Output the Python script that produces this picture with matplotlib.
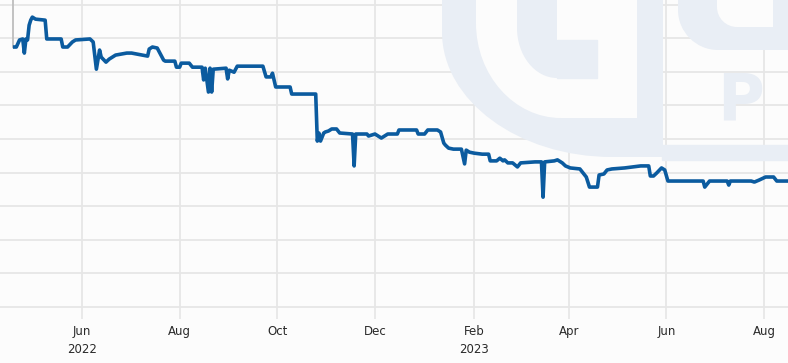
import numpy as np
import pandas as pd
import matplotlib
matplotlib.use("Agg")
import matplotlib.pyplot as plt
from matplotlib.path import Path
from matplotlib.patches import PathPatch, Rectangle

# price series (arbitrary units, gridlines every 10)
dates = [
    "2022-04-20", "2022-04-21", "2022-04-23", "2022-04-25", "2022-04-26", "2022-04-27",
    "2022-04-28", "2022-04-29", "2022-04-30", "2022-05-01", "2022-05-03", "2022-05-09",
    "2022-05-10", "2022-05-19", "2022-05-20", "2022-05-23", "2022-05-26", "2022-05-28",
    "2022-06-06", "2022-06-08", "2022-06-10", "2022-06-12", "2022-06-13", "2022-06-16",
    "2022-06-18", "2022-06-22", "2022-06-29", "2022-07-02", "2022-07-12", "2022-07-13",
    "2022-07-15", "2022-07-18", "2022-07-22", "2022-07-23", "2022-07-29", "2022-07-30",
    "2022-08-01", "2022-08-02", "2022-08-07", "2022-08-09", "2022-08-15", "2022-08-16",
    "2022-08-17", "2022-08-19", "2022-08-20", "2022-08-21", "2022-08-22", "2022-08-30",
    "2022-08-31", "2022-09-01", "2022-09-04", "2022-09-06", "2022-09-22", "2022-09-24",
    "2022-09-27", "2022-09-28", "2022-09-30", "2022-10-09", "2022-10-10", "2022-10-25",
    "2022-10-26", "2022-10-27", "2022-10-28", "2022-10-30", "2022-10-31", "2022-11-02",
    "2022-11-04", "2022-11-07", "2022-11-09", "2022-11-17", "2022-11-18", "2022-11-19",
    "2022-11-26", "2022-11-27", "2022-12-01", "2022-12-03", "2022-12-05", "2022-12-07",
    "2022-12-09", "2022-12-15", "2022-12-16", "2022-12-27", "2022-12-28", "2023-01-01",
    "2023-01-03", "2023-01-09", "2023-01-11", "2023-01-13", "2023-01-14", "2023-01-16",
    "2023-01-19", "2023-01-24", "2023-01-26", "2023-01-27", "2023-01-29", "2023-02-01",
    "2023-02-06", "2023-02-10", "2023-02-11", "2023-02-15", "2023-02-17", "2023-02-19",
    "2023-02-20", "2023-02-22", "2023-02-25", "2023-02-28", "2023-03-02", "2023-03-11",
    "2023-03-15", "2023-03-16", "2023-03-17", "2023-03-23", "2023-03-25", "2023-03-28",
    "2023-03-30", "2023-04-02", "2023-04-08", "2023-04-12", "2023-04-14", "2023-04-19",
    "2023-04-20", "2023-04-23", "2023-04-25", "2023-04-28", "2023-05-06", "2023-05-16",
    "2023-05-21", "2023-05-22", "2023-05-24", "2023-05-26", "2023-05-29", "2023-05-31",
    "2023-06-02", "2023-06-24", "2023-06-25", "2023-06-28", "2023-07-09", "2023-07-10",
    "2023-07-11", "2023-07-24", "2023-07-26", "2023-07-29", "2023-08-02", "2023-08-07",
    "2023-08-09", "2023-08-16",
]
values = [
    77.4, 77.4, 79.5, 79.8, 75.6, 79.8,
    79.5, 83.9, 85.4, 86.3, 85.7, 85.4,
    79.8, 79.8, 77.4, 77.4, 78.9, 79.5,
    79.8, 78.9, 70.8, 76.5, 74.4, 72.9,
    73.8, 75.0, 75.6, 75.6, 74.7, 76.8,
    77.4, 77.1, 73.5, 73.2, 73.2, 71.4,
    71.4, 72.6, 72.6, 71.4, 71.4, 67.6,
    71.1, 64.0, 71.1, 64.0, 70.8, 71.1,
    67.9, 70.5, 69.9, 71.7, 71.7, 68.5,
    68.5, 69.6, 65.5, 65.5, 63.4, 63.4,
    49.4, 51.8, 49.4, 51.8, 52.1, 52.4,
    53.0, 53.0, 51.8, 51.5, 42.0, 51.5,
    51.5, 50.9, 51.5, 50.9, 50.3, 50.9,
    51.5, 51.5, 52.7, 52.7, 51.5, 51.5,
    52.7, 52.7, 52.1, 48.8, 48.2, 47.3,
    47.0, 47.0, 42.6, 46.7, 46.1, 45.8,
    45.5, 45.5, 43.5, 43.5, 44.3, 43.5,
    43.8, 42.9, 42.9, 41.7, 42.9, 43.2,
    43.2, 32.7, 43.2, 43.5, 43.8, 42.9,
    42.0, 41.4, 41.1, 38.7, 35.7, 35.7,
    39.3, 39.6, 40.8, 41.1, 41.4, 42.0,
    42.0, 39.0, 39.0, 39.9, 41.4, 40.8,
    37.5, 37.5, 35.7, 37.5, 37.5, 36.3,
    37.5, 37.5, 37.2, 37.8, 38.7, 38.7,
    37.5, 37.5,
]
# faint grey series entering from above at the very start
grey_dates = ["2022-04-19", "2022-04-19"]
grey_values = [95.0, 77.4]

tick_dates = ["2022-06-01", "2022-08-01", "2022-10-01", "2022-12-01",
              "2023-02-01", "2023-04-01", "2023-06-01", "2023-08-01"]
tick_labels = ["Jun\n2022", "Aug", "Oct", "Dec", "Feb\n2023", "Apr", "Jun", "Aug"]
grid_levels = [0, 10, 20, 30, 40, 50, 60, 70, 80, 90]

W, H = 788, 363
BG = "#fcfcfc"
WM = "#e9eef5"
GRID = "#e6e6e6"
BLUE = "#0b5b9f"

fig = plt.figure(figsize=(W / 100, H / 100), dpi=100, facecolor=BG)


def px_path(verts, codes=None):
    # pixel coords (origin top-left) -> figure fraction
    v = [(x / W, 1 - y / H) for x, y in verts]
    return Path(v, codes)


def corner_shape(x0, x1, y0, y1, rx, ry):
    # rectangle with rounded bottom-left corner only
    k = 0.55
    verts = [(x0, y0), (x1, y0), (x1, y1), (x0 + rx, y1),
             (x0 + rx - k * rx, y1), (x0, y1 - ry + k * ry), (x0, y1 - ry),
             (x0, y0)]
    codes = [Path.MOVETO, Path.LINETO, Path.LINETO, Path.LINETO,
             Path.CURVE4, Path.CURVE4, Path.CURVE4, Path.CLOSEPOLY]
    return px_path(verts, codes)


def add(path, color):
    fig.patches.append(PathPatch(path, transform=fig.transFigure,
                                 facecolor=color, edgecolor="none", zorder=0))


# watermark logo (very faint)
add(corner_shape(442, 663, -20, 157, 170, 125), WM)
add(corner_shape(476, 637, -20, 118, 85, 95), BG)
add(corner_shape(517, 557, -20, 78, 40, 50), WM)
fig.patches.append(Rectangle((557 / W, 1 - 78 / H), 40 / W, 38 / H,
                             transform=fig.transFigure, color=WM, zorder=0))
fig.patches.append(Rectangle((662 / W, 1 - 160 / H), 126 / W, 15 / H,
                             transform=fig.transFigure, color=WM, zorder=0))
add(corner_shape(678, 800, -20, 50, 40, 40), WM)
add(corner_shape(717, 773, -20, 27, 20, 20), BG)
fig.text(717 / W, 1 - 120 / H, "P", fontsize=46, fontweight="bold",
         color=WM, ha="left", va="baseline", zorder=0)

ax = fig.add_axes([0, 1 - 308 / H, 1, 308 / H])
ax.set_facecolor("none")

x = pd.to_datetime(dates)
ax.plot(pd.to_datetime(grey_dates), grey_values, color="#bdbdbd", lw=1.3, zorder=2)
ax.plot(x, values, color=BLUE, lw=2.6, solid_joinstyle="round", zorder=3)

start = pd.Timestamp("2022-06-01") - pd.Timedelta(days=51.2)
end = pd.Timestamp("2022-06-01") + pd.Timedelta(days=441.0)
ax.set_xlim(start, end)
ax.set_ylim(-0.3, 91.4)

ax.set_xticks(pd.to_datetime(tick_dates))
ax.set_xticklabels(tick_labels, fontsize=8.5, color="#2a2a2a", linespacing=1.55)
ax.set_yticks(grid_levels)
ax.set_yticklabels([])
ax.tick_params(axis="y", length=0)
ax.tick_params(axis="x", length=8, width=1.2, color=GRID, pad=4)
ax.grid(True, color=GRID, lw=1.3)
ax.set_axisbelow(True)
for s in ax.spines.values():
    s.set_visible(False)

plt.savefig("out.png", dpi=100, facecolor=BG)
